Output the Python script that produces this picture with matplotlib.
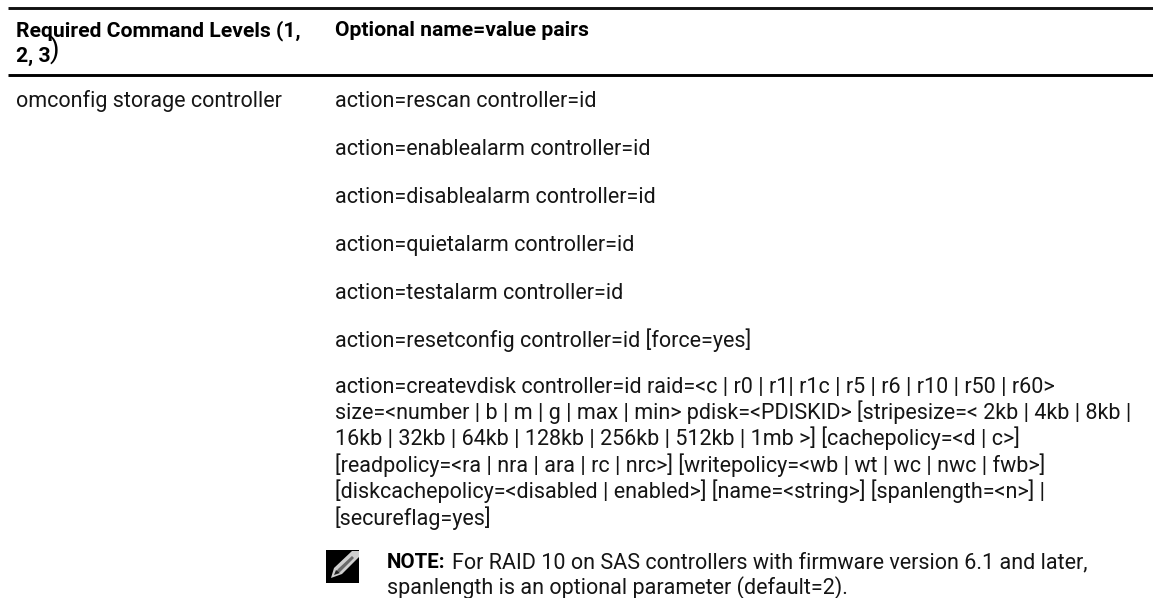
import matplotlib
matplotlib.use('Agg')
import matplotlib.pyplot as plt
from matplotlib.patches import Rectangle, Polygon

plt.rcParams['font.family'] = ['Roboto', 'DejaVu Sans']

# table text
header_left = ['Required Command Levels (1,', '2, 3']
header_right = 'Optional name=value pairs'
command = 'omconfig storage controller'
short_rows = [
    'action=rescan controller=id',
    'action=enablealarm controller=id',
    'action=disablealarm controller=id',
    'action=quietalarm controller=id',
    'action=testalarm controller=id',
    'action=resetconfig controller=id [force=yes]',
]
short_y = [107, 155, 203, 251, 299, 347]
createvdisk = [
    'action=createvdisk controller=id raid=<c | r0 | r1| r1c | r5 | r6 | r10 | r50 | r60>',
    'size=<number | b | m | g | max | min> pdisk=<PDISKID> [stripesize=< 2kb | 4kb | 8kb |',
    '16kb | 32kb | 64kb | 128kb | 256kb | 512kb | 1mb >] [cachepolicy=<d | c>]',
    '[readpolicy=<ra | nra | ara | rc | nrc>] [writepolicy=<wb | wt | wc | nwc | fwb>]',
    '[diskcachepolicy=<disabled | enabled>] [name=<string>] [spanlength=<n>] |',
    '[secureflag=yes]',
]
createvdisk_y = [393, 419, 445, 472, 498, 525]
note_bold = 'NOTE:'
note_lines = [
    'For RAID 10 on SAS controllers with firmware version 6.1 and later,',
    'spanlength is an optional parameter (default=2).',
]

FS = 15.5
FS_BOLD = 15.2
LEFT = 16.5
RIGHT = 335
INK = '#151515'

fig = plt.figure(figsize=(11.53, 5.98), dpi=100)
ax = fig.add_axes([0, 0, 1, 1])
ax.set_xlim(0, 1153)
ax.set_ylim(598, 0)
ax.axis('off')

# rules
ax.plot([8, 1153], [7.7, 7.7], color='#111111', lw=2.1, solid_capstyle='butt')
ax.plot([8, 1153], [74.5, 74.5], color='black', lw=2.1, solid_capstyle='butt')

# header
ax.text(LEFT, 36, header_left[0], fontsize=FS_BOLD, fontweight='bold', va='baseline')
ax.text(LEFT, 61.5, header_left[1], fontsize=FS_BOLD, fontweight='bold', va='baseline')
ax.text(50, 58, ')', fontsize=20, va='baseline')
ax.text(RIGHT, 36, header_right, fontsize=FS_BOLD, fontweight='bold', va='baseline')

ax.text(LEFT, 107, command, fontsize=FS, color=INK, va='baseline')
for y, row in zip(short_y, short_rows):
    ax.text(RIGHT, y, row, fontsize=FS, color=INK, va='baseline')
for y, row in zip(createvdisk_y, createvdisk):
    ax.text(RIGHT, y, row, fontsize=FS, color=INK, va='baseline')

# note icon
ax.add_patch(Rectangle((326, 550), 33, 33, fc='black', ec='none'))
ax.add_patch(Polygon([[331, 578], [334, 568], [352, 551], [359, 551], [359, 557], [342, 574]], fc='#cfcfcf', ec='none'))
ax.add_patch(Polygon([[336, 572], [338, 569], [352, 556], [354, 558], [340, 572]], fc='#6a6a6a', ec='none'))
ax.add_patch(Polygon([[334, 575], [336, 570], [340, 573]], fc='#222222', ec='none'))

ax.text(387, 568, note_bold, fontsize=14.8, fontweight='bold', va='baseline')
ax.text(452.5, 568, note_lines[0], fontsize=FS, color=INK, va='baseline')
ax.text(387, 594, note_lines[1], fontsize=FS, color=INK, va='baseline')

fig.savefig('out.png', dpi=100)
